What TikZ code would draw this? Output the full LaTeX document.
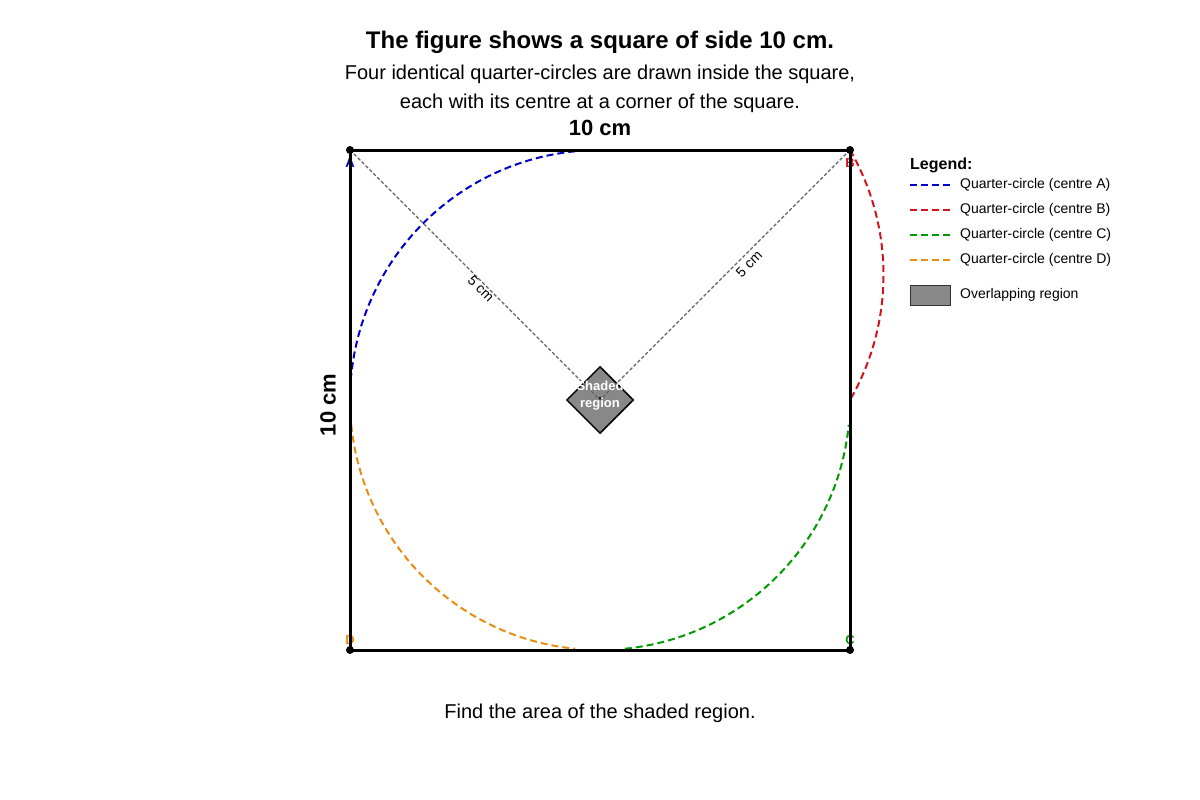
\documentclass[tikz,border=0pt]{standalone}
\usepackage{fontspec}
\setmainfont{Liberation Sans}
\usetikzlibrary{shapes.geometric}
\definecolor{cblue}{RGB}{0,0,204}
\definecolor{cred}{RGB}{210,20,30}
\definecolor{cgreen}{RGB}{0,155,0}
\definecolor{corange}{RGB}{232,140,20}
\definecolor{cgray}{RGB}{136,136,136}
\definecolor{cguide}{RGB}{100,100,100}
\newcommand{\fs}[1]{\fontsize{#1}{#1}\selectfont}
\tikzset{
  arcline/.style={line width=2pt, dash pattern=on 7pt off 4pt},
  guide/.style={draw=cguide, line width=1.2pt, dash pattern=on 3.5pt off 2pt},
  sqline/.style={line width=3pt},
  corner/.style={font=\fs{13}\bfseries, inner sep=0pt},
  dot/.style={circle, fill=black, inner sep=0pt, minimum size=8pt},
  legtext/.style={anchor=west, font=\fs{14}, inner sep=0pt},
}
\begin{document}
\begin{tikzpicture}[x=1pt,y=-1pt]
\useasboundingbox (0,0) rectangle (1200,800);
% texts
\node[font=\fs{24}\bfseries] (title) at (600,42) {The figure shows a square of side 10 cm.};
\node[font=\fs{20}] (sub1) at (600,74) {Four identical quarter-circles are drawn inside the square,};
\node[font=\fs{20}] (sub2) at (600,103) {each with its centre at a corner of the square.};
\node[font=\fs{22}\bfseries] (top) at (600,128) {10 cm};
\node[font=\fs{22}\bfseries, rotate=90] (side) at (328,405) {10 cm};
\node[font=\fs{20}] (q) at (600,713) {Find the area of the shaded region.};
% corners
\coordinate (A) at (350,150);
\coordinate (B) at (850,150);
\coordinate (C) at (850,650);
\coordinate (D) at (350,650);
\coordinate (O) at (600,400);
% corner labels (behind the square)
\node[corner, text=cblue] (la) at (350,163) {A};
\node[corner, text=cred] (lb) at (850,163) {B};
\node[corner, text=cgreen] (lc) at (850,640) {C};
\node[corner, text=corange] (ld) at (350,640) {D};
% arcs
\draw[arcline, cblue] (O) ++(-95.7:250) arc[start angle=-95.7, end angle=-174.3, radius=250];
\draw[arcline, corange] (O) ++(-185.7:250) arc[start angle=-185.7, end angle=-264.3, radius=250];
\draw[arcline, cgreen] (O) ++(-275.7:250) arc[start angle=-275.7, end angle=-354.3, radius=250];
\draw[arcline, cred] (633.5,275) ++(-30:250) arc[start angle=-30, end angle=30, radius=250];
% square
\draw[sqline] (A) -- (B) -- (C) -- (D) -- cycle;
% shaded region
\node[diamond, draw=black, line width=1.5pt, fill=cgray, minimum size=67pt, inner sep=0pt] (S) at (O) {};
\draw[guide] (A) -- (O);
\draw[guide] (B) -- (O);
\fill (600,398) circle (1.3pt);
\node[font=\fs{13}\bfseries, text=white, inner sep=0pt] (st1) at (600,386) {Shaded};
\node[font=\fs{13}\bfseries, text=white, inner sep=0pt] (st2) at (600,404) {region};
\node[font=\fs{14}, rotate=-45] (l1) at (481,289) {5 cm};
\node[font=\fs{14}, rotate=45] (l2) at (749,264) {5 cm};
% corner dots
\node[dot] at (A) {};
\node[dot] at (B) {};
\node[dot] at (C) {};
\node[dot] at (D) {};
% legend
\node[anchor=west, font=\fs{16}\bfseries, inner sep=0pt] (lg) at (910,165) {Legend:};
\draw[arcline, line width=1.8pt, cblue] (910,185) -- (950,185);
\draw[arcline, line width=1.8pt, cred] (910,210) -- (950,210);
\draw[arcline, line width=1.8pt, cgreen] (910,235) -- (950,235);
\draw[arcline, line width=1.8pt, corange] (910,260) -- (950,260);
\node[legtext] at (960,185) {Quarter-circle (centre A)};
\node[legtext] at (960,210) {Quarter-circle (centre B)};
\node[legtext] at (960,235) {Quarter-circle (centre C)};
\node[legtext] at (960,260) {Quarter-circle (centre D)};
\draw[fill=cgray, draw=black!80, line width=1pt] (910,285) rectangle (950,305);
\node[legtext] at (960,295) {Overlapping region};
\end{tikzpicture}
\end{document}
